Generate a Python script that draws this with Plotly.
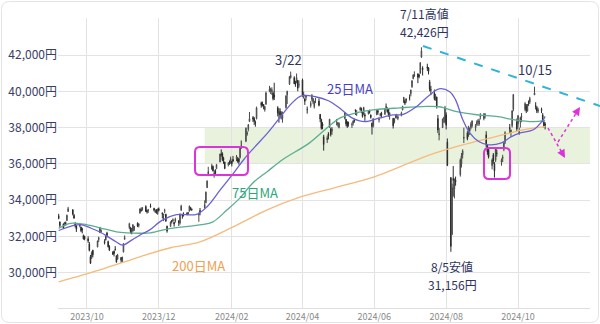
import pandas as pd
import plotly.graph_objects as go

# ---------------- data ----------------
trading_days_by_month = [
    ("2023-09", "7 8 11 12 13 14 15 19 20 21 22 25 26 27 28 29"),
    ("2023-10", "2 3 4 5 6 10 11 12 13 16 17 18 19 20 23 24 25 26 27 30 31"),
    ("2023-11", "1 2 6 7 8 9 10 13 14 15 16 17 20 21 22 24 27 28 29 30"),
    ("2023-12", "1 4 5 6 7 8 11 12 13 14 15 18 19 20 21 22 25 26 27 28 29"),
    ("2024-01", "4 5 9 10 11 12 15 16 17 18 19 22 23 24 25 26 29 30 31"),
    ("2024-02", "1 2 5 6 7 8 9 13 14 15 16 19 20 21 22 26 27 28 29"),
    ("2024-03", "1 4 5 6 7 8 11 12 13 14 15 18 19 21 22 25 26 27 28 29"),
    ("2024-04", "1 2 3 4 5 8 9 10 11 12 15 16 17 18 19 22 23 24 25 26 30"),
    ("2024-05", "1 2 7 8 9 10 13 14 15 16 17 20 21 22 23 24 27 28 29 30 31"),
    ("2024-06", "3 4 5 6 7 10 11 12 13 14 17 18 19 20 21 24 25 26 27 28"),
    ("2024-07", "1 2 3 4 5 8 9 10 11 12 16 17 18 19 22 23 24 25 26 29 30 31"),
    ("2024-08", "1 2 5 6 7 8 9 13 14 15 16 19 20 21 22 23 26 27 28 29 30"),
    ("2024-09", "2 3 4 5 6 9 10 11 12 13 17 18 19 20 24 25 26 27 30"),
    ("2024-10", "1 2 3 4 7 8 9 10 11 15 16 17 18 21 22 23 24"),
]
dates = [f"{m}-{int(d):02d}" for m, ds in trading_days_by_month for d in ds.split()]

opens = [
    33140,32800,32690,32600,32750,32880,33380,33480,33170,32690,32600,32570,32520,32410,32050,32010,
    31870,31600,30890,30850,31240,31430,31820,32210,32260,31720,31810,32190,31720,31460,31130,31190,31300,30920,30750,30840,30600,
    31150,31850,32490,32490,32230,32300,32340,32730,32600,33300,33460,33470,33650,33430,33430,33660,33550,33340,33460,33260,
    33530,33300,33150,33390,33230,32560,32560,32870,32860,32780,32820,32870,32740,33460,33200,33240,33300,33260,33400,33600,33500,
    33190,33430,33570,33860,34690,35380,35720,35860,35420,35630,35740,36100,36550,36570,36300,36100,35960,36090,36070,
    36140,36250,36290,36250,36290,36350,36980,37250,37650,37900,38340,38550,38500,38280,38500,39370,39250,39270,38980,
    39300,40000,40040,40000,39900,39800,39100,38800,38900,38650,38500,39100,39800,40400,40750,40750,40450,40500,40600,40350,
    40620,39650,39580,39660,39000,39200,39560,39400,39150,39520,39460,38730,38450,38200,37500,37330,37650,38020,37920,37780,38360,
    38180,38000,38500,38450,38300,38250,38160,38240,38440,38980,38740,38980,39070,38800,38730,38700,38770,38900,38700,38250,38100,
    38750,38940,38430,38690,38800,38740,39140,39000,39050,38640,38500,38300,38560,38610,38500,38680,38980,39400,39460,39450,
    39650,39860,40250,40690,40880,40960,40890,41000,41890,41280,41350,41300,40520,40100,39900,39560,39690,38500,37600,38000,38500,38300,
    38700,37200,35250,32100,35200,34600,35100,35400,36000,36500,37400,37700,37600,37800,38000,38100,38000,38200,38300,38200,38600,
    38500,38700,37600,37000,36800,35900,36500,36000,36200,36600,36100,36300,36800,37200,38000,37700,38100,39000,38300,
    38200,37700,38300,38600,39000,39200,38900,39400,39400,39800,39200,39100,38900,39000,38700,38300,38200,
]
highs = [
    33250,32830,32720,32800,32830,33210,33634,33490,33240,32790,32620,32720,32530,32480,32110,32040,
    32010,31700,30980,31180,31270,31780,31990,32530,32400,31850,32060,32260,31770,31520,31190,31230,31470,30970,31040,30870,30890,
    31640,32060,32760,32530,32470,32680,32580,32780,32730,33550,33600,33620,33720,33480,33520,33810,33580,33500,33510,33550,
    33600,33320,33250,33530,33250,32600,32830,32910,33000,32790,33040,32880,33270,33750,33250,33330,33330,33360,33700,33610,33550,
    33310,33570,33990,34480,35100,35840,36010,35910,35650,35710,36000,36560,36800,36640,36390,36120,36100,36190,36400,
    36170,36440,36490,36390,36320,36890,37290,38010,37800,38200,38860,38640,38580,38390,39160,39430,39430,39300,39200,
    39990,40300,40200,40220,40000,40472,39180,39070,39060,38900,38880,39790,40030,40830,41087,40830,40580,40980,40620,40600,
    40700,39980,39620,39800,39160,39460,39850,39640,39480,39630,39610,38750,38490,38300,37600,37560,37750,38480,38000,38030,38470,
    38300,38290,38860,38480,38360,38330,38280,38400,38470,39000,38960,39150,39100,38870,39150,38790,38950,38990,38720,38270,38520,
    38990,38960,38570,38800,38870,39040,39330,39120,39060,38840,38540,38530,38720,38760,38690,38880,39200,39690,39550,39620,
    39830,40090,40610,40930,41100,40990,40960,41600,42426,41380,41520,41330,40630,40300,40100,39850,39700,38700,37980,38500,38600,39200,
    38840,37400,35250,34910,35880,35200,35300,36300,36600,36800,38000,37800,38100,38000,38300,38400,38200,38400,38470,38500,38800,
    38800,38800,37800,37100,36900,36300,36600,36100,36900,36800,36300,36500,37200,37800,38200,37900,38950,39830,38500,
    38700,38000,38600,38800,39400,39300,39300,39500,39700,40257,39400,39200,39100,39100,38800,38400,38300,
]
lows = [
    32950,32510,32410,32570,32600,32850,33350,33160,32970,32500,32250,32500,32240,32170,31830,31790,
    31650,31180,30487,30760,30850,31400,31690,32200,32180,31560,31780,31950,31400,31200,30980,30900,31230,30550,30720,30540,30560,
    31120,31820,32420,32170,32120,32260,32300,32520,32500,33250,33370,33420,33350,33260,33300,33600,33380,33300,33250,33200,
    33380,32990,32850,33290,32810,32210,32530,32720,32810,32540,32760,32580,32660,33400,32980,33100,33170,33200,33380,33450,33420,
    32810,33170,33550,33840,34670,35330,35680,35580,35240,35400,35710,36100,36400,36150,36000,35710,35860,35950,36000,
    35860,36100,36150,36060,35960,36300,36830,37200,37550,37790,38310,38310,38150,38050,38450,39100,39160,39010,38880,
    39250,39950,39850,39800,39500,39520,38620,38270,38500,38450,38270,39050,39300,40350,40700,40400,40250,40450,40000,40200,
    39700,39600,39250,39500,38770,39100,39450,39290,39050,39350,39170,38300,37890,37910,36733,37150,37350,37990,37510,37600,38120,
    38050,37960,38450,38070,37980,38050,37980,38110,38270,38700,38650,38930,38800,38550,38700,38370,38720,38770,38500,37617,38000,
    38680,38700,38280,38610,38540,38700,38980,38820,38600,38440,37950,38230,38510,38500,38410,38620,38950,39350,39240,39350,
    39490,39720,40190,40670,40790,40450,40720,40960,41840,40870,41130,40930,40000,39790,39500,39480,39050,37700,37300,37980,38260,38230,
    37900,35880,31156,32100,34200,34100,34800,35300,35800,36300,37150,37300,37500,37600,37900,38000,37800,38100,38100,38100,38450,
    38400,38500,36900,36500,36300,35700,36000,35247,36100,36400,35900,36100,36700,37100,37700,37500,38000,38900,37800,
    38000,37600,38000,38300,38900,38800,38900,39200,39300,39800,39000,38800,38800,38800,38300,38000,37900,
]
closes = [
    32991,32607,32467,32776,32707,33168,33533,33242,33023,32571,32402,32679,32315,32372,31872,31857,
    31759,31237,30526,31075,30994,31746,31936,32494,32315,31659,32040,32042,31430,31259,31019,31062,31269,30601,30991,30696,30858,
    31601,31950,32708,32272,32166,32646,32568,32585,32695,33519,33424,33585,33388,33354,33452,33625,33447,33408,33321,33486,
    33431,33231,33231,33445,32858,32307,32791,32843,32926,32686,32970,32758,33219,33675,33140,33169,33254,33305,33681,33539,33464,
    33288,33377,33763,34441,35049,35577,35901,35619,35477,35466,35963,36546,36517,36226,36236,35751,36026,36065,36287,
    36011,36158,36354,36160,36119,36863,36897,37963,37703,38157,38487,38470,38363,38262,39098,39233,39239,39208,39166,
    39910,40109,40097,40090,39598,39688,38820,38797,38695,38807,38707,39740,40003,40815,40888,40414,40398,40762,40168,40369,
    39803,39838,39451,39773,38992,39347,39773,39581,39442,39523,39232,38471,37961,38079,37068,37438,37552,38460,37628,37934,38405,
    38274,38236,38835,38202,38073,38229,38179,38356,38385,38920,38787,39069,38946,38617,39103,38646,38900,38855,38556,38054,38487,
    38923,38837,38490,38703,38683,39038,39134,38876,38720,38814,38102,38482,38570,38633,38596,38804,39173,39667,39341,39583,
    39631,40074,40580,40913,40912,40780,40831,41580,42224,41190,41275,41097,40126,40063,39599,39594,39154,37869,37667,38468,38525,39101,
    38126,35909,31458,34675,35089,34831,35025,36232,36442,36726,37470,37388,38062,37951,38211,38364,38110,38288,38371,38362,38647,
    38700,38686,37047,36657,36391,36215,36159,35619,36833,36581,36203,36380,37155,37723,37940,37870,38926,39830,37919,
    38651,37808,38552,38635,39332,38937,39277,39380,39605,39910,39180,38911,38981,38954,38411,38104,38143,
]

ma25_dates = ["2023-09-07","2023-09-19","2023-09-26","2023-10-04","2023-10-12","2023-10-19","2023-10-26",
              "2023-10-31","2023-11-08","2023-11-17","2023-11-23","2023-12-04","2023-12-16","2024-01-02",
              "2024-01-11","2024-01-22","2024-02-02","2024-02-11","2024-02-20","2024-03-03","2024-03-14",
              "2024-03-23","2024-03-31","2024-04-12","2024-04-23","2024-05-04","2024-05-13","2024-05-24",
              "2024-06-05","2024-06-17","2024-06-25","2024-07-06","2024-07-18","2024-07-26","2024-08-04",
              "2024-08-09","2024-08-15","2024-08-21","2024-08-29","2024-09-06","2024-09-17","2024-09-25",
              "2024-10-03","2024-10-14","2024-10-22","2024-10-24"]
ma25_vals = [32330,32600,32650,32470,32250,31980,31700,
             31520,31800,32150,32350,32900,33200,33220,
             33640,34550,35450,36230,36900,37750,38650,
             39350,39750,39700,39480,39000,38540,38330,
             38520,38700,38720,39120,39800,40140,39980,
             39530,38450,37710,37220,37050,37160,37490,
             37710,37880,38400,38620]

ma75_dates = ["2023-09-07","2023-09-17","2023-09-28","2023-10-12","2023-10-26","2023-11-04","2023-11-15",
              "2023-11-24","2023-12-11","2024-01-05","2024-01-16","2024-01-28","2024-02-08","2024-02-19",
              "2024-03-02","2024-03-15","2024-04-07","2024-04-22","2024-05-03","2024-05-17","2024-05-31",
              "2024-06-23","2024-07-12","2024-07-26","2024-08-10","2024-08-27","2024-09-14","2024-09-28",
              "2024-10-14","2024-10-24"]
ma75_vals = [32450,32720,32680,32480,32260,32200,32180,
             32200,32450,32640,32810,33470,34130,34960,
             35570,36230,37160,37990,38540,38820,38980,
             39090,39160,39150,38880,38710,38600,38430,
             38330,38400]

ma200_dates = ["2023-09-07","2023-10-12","2023-11-15","2023-12-11","2024-01-05","2024-02-02","2024-03-02",
               "2024-03-28","2024-04-28","2024-06-01","2024-06-25","2024-07-18","2024-08-15","2024-09-24",
               "2024-10-03","2024-10-24"]
ma200_vals = [29500,30160,30880,31380,31710,32530,33470,
              34130,34680,35290,35900,36500,37050,37700,
              37850,38050]

y_ticks = [30000, 32000, 34000, 36000, 38000, 40000, 42000]
x_ticks = ["2023-10-01","2023-12-01","2024-02-01","2024-04-01","2024-06-01","2024-08-01","2024-10-01"]
x_tick_labels = ["2023/10","2023/12","2024/02","2024/04","2024/06","2024/08","2024/10"]

band_start = "2024-01-09"
band_low, band_high = 36000, 38000

n = len(dates)
assert len(opens) == n and len(highs) == n and len(lows) == n and len(closes) == n, \
    (n, len(opens), len(highs), len(lows), len(closes))

# ---------------- figure ----------------
FONT = "Noto Sans CJK JP, Noto Sans, sans-serif"
TXT = "#30345c"
MAG = "#dd33dd"

fig = go.Figure()
fig.add_trace(go.Candlestick(
    x=pd.to_datetime(dates), open=opens, high=highs, low=lows, close=closes,
    increasing=dict(line=dict(color="#484848", width=1), fillcolor="#d4d4d4"),
    decreasing=dict(line=dict(color="#2a2a2a", width=1), fillcolor="#2a2a2a"),
    whiskerwidth=0, hoverinfo="skip", name="日経平均"))
fig.add_trace(go.Scatter(x=pd.to_datetime(ma200_dates), y=ma200_vals, mode="lines",
                         line=dict(color="#f5bb7c", width=1.3, shape="spline"), hoverinfo="skip"))
fig.add_trace(go.Scatter(x=pd.to_datetime(ma75_dates), y=ma75_vals, mode="lines",
                         line=dict(color="#5cae90", width=1.3, shape="spline"), hoverinfo="skip"))
fig.add_trace(go.Scatter(x=pd.to_datetime(ma25_dates), y=ma25_vals, mode="lines",
                         line=dict(color="#6a62d4", width=1.3, shape="spline"), hoverinfo="skip"))

x_range = ["2023-09-06 10:00", "2024-12-01 03:00"]
y_range = [28060, 44040]

# green band
fig.add_shape(type="rect", xref="x", yref="y", x0=band_start, x1=x_range[1], y0=band_low, y1=band_high,
              fillcolor="rgba(200,225,175,0.42)", line=dict(width=0), layer="below")

# plot area pixel geometry -> paper coords helpers
L, R, T, B = 58, 590, 18, 308
def px(x): return (x - L) / (R - L)
def py(y): return (B - y) / (B - T)

def rounded_box(x0, y0, x1, y1, r=5):
    rx, ry = r / (R - L), r / (B - T)
    a, b, c, d = px(x0), px(x1), py(y0), py(y1)  # c top, d bottom
    return (f"M{a+rx},{c} L{b-rx},{c} Q{b},{c} {b},{c-ry} L{b},{d+ry} Q{b},{d} {b-rx},{d} "
            f"L{a+rx},{d} Q{a},{d} {a},{d+ry} L{a},{c-ry} Q{a},{c} {a+rx},{c} Z")

fig.add_shape(type="path", xref="paper", yref="paper", path=rounded_box(195, 147, 248, 175),
              line=dict(color=MAG, width=2))
fig.add_shape(type="path", xref="paper", yref="paper", path=rounded_box(484, 148, 510, 179),
              line=dict(color=MAG, width=2))

# outer card border
fig.add_shape(type="path", xref="paper", yref="paper",
              path=rounded_box(1.5, 1.5, 598.5, 322.5, r=8), line=dict(color="#e4e4e4", width=1), layer="below")

# cyan dashed trend line
fig.add_shape(type="line", xref="paper", yref="paper", x0=px(423), y0=py(46), x1=px(600), y1=py(106),
              line=dict(color="#2fb4d6", width=2, dash="dash"))

# magenta dotted arrows
for (tx, ty, hx, hy) in [(548, 128, 565, 158), (558, 142, 580, 107)]:
    fig.add_shape(type="line", xref="paper", yref="paper", x0=px(tx), y0=py(ty), x1=px(hx), y1=py(hy),
                  line=dict(color=MAG, width=1.5, dash="dot"))
    dx, dy = tx - hx, ty - hy
    norm = (dx * dx + dy * dy) ** 0.5
    fig.add_annotation(xref="paper", yref="paper", x=px(hx), y=py(hy), text="", showarrow=True,
                       ax=dx / norm * 9, ay=dy / norm * 9, arrowhead=2, arrowsize=1.1, arrowwidth=1.5,
                       arrowcolor=MAG, standoff=0)

def label(text, x, y, color=TXT, size=13):
    fig.add_annotation(xref="paper", yref="paper", x=px(x), y=py(y), text=text, showarrow=False,
                       font=dict(family=FONT, size=size, color=color), xanchor="center", yanchor="middle",
                       borderpad=0)

label("3/22", 288, 60)
label("25日MA", 350, 88, color="#4a3fc4")
label("75日MA", 255, 192, color="#2ea57a")
label("200日MA", 198, 265, color="#f0a050")
label("7/11高値", 424, 13.5, size=12)
label("42,426円", 424, 31.5, size=12)
label("10/15", 535, 69)
label("8/5安値", 452, 266, size=12)
label("31,156円", 452, 284, size=12)

fig.update_layout(
    width=600, height=324,
    margin=dict(l=L, r=600 - R, t=T, b=324 - B, autoexpand=False),
    paper_bgcolor="white", plot_bgcolor="white",
    showlegend=False,
    font=dict(family=FONT),
    xaxis=dict(type="date", range=x_range, rangeslider=dict(visible=False), automargin=False,
               tickvals=pd.to_datetime(x_ticks), ticktext=x_tick_labels,
               tickfont=dict(size=9, color="#8a8a8a"), showgrid=True, gridcolor="#e3e3e3", gridwidth=1,
               showline=True, linecolor="#dedede", linewidth=1, ticks="", zeroline=False),
    yaxis=dict(range=y_range, tickvals=y_ticks, ticktext=[f"{v:,}円" for v in y_ticks], automargin=False,
               tickfont=dict(size=12, color="#3a3d66"), showgrid=True, gridcolor="#e3e3e3", gridwidth=1,
               ticks="", zeroline=False, showline=False),
)

fig.write_html("out.html")
